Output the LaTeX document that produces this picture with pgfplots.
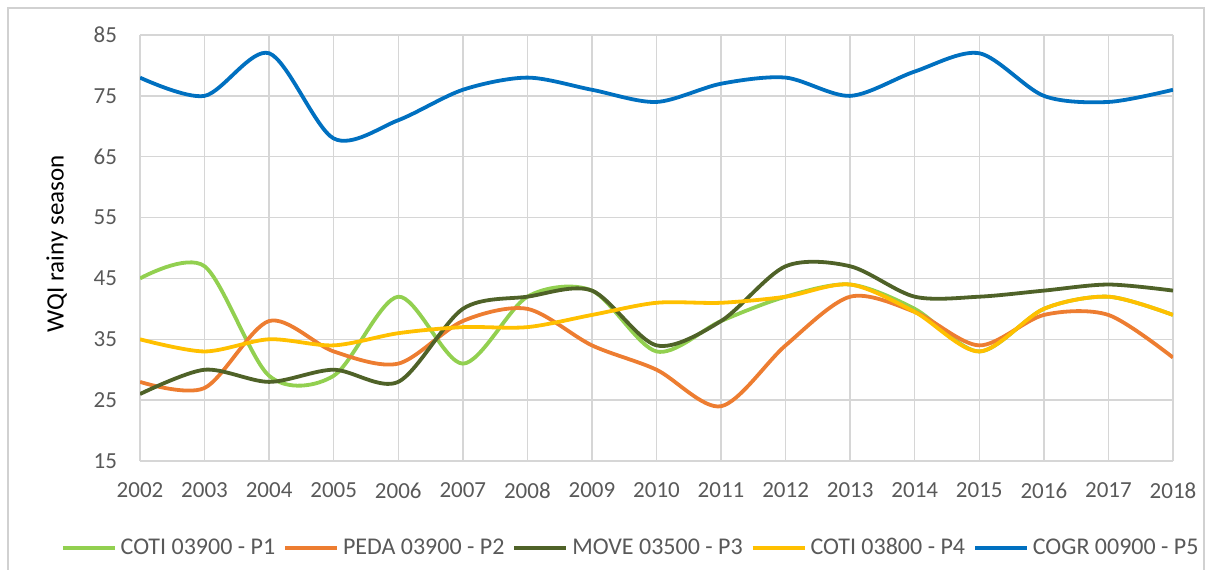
\documentclass[border=0pt]{standalone}
\usepackage{pgfplots}
\pgfplotsset{compat=1.18}
\usepackage{fontspec}
\setmainfont{Carlito}
\definecolor{cPa}{HTML}{92D050}
\definecolor{cPb}{HTML}{ED7D31}
\definecolor{cPc}{HTML}{4F6228}
\definecolor{cPd}{HTML}{FFC000}
\definecolor{cPe}{HTML}{0070C0}
\definecolor{txtgray}{HTML}{595959}
\begin{document}
\begin{tikzpicture}
\useasboundingbox (0pt,0pt) rectangle (602.5pt,284.5pt);
\draw[black!18, line width=0.6pt] (4pt,-5pt) rectangle (602pt,280.5pt);
\begin{axis}[
  at={(70pt,54pt)}, anchor=south west,
  scale only axis, width=516.5pt, height=213pt,
  xmin=2002, xmax=2018, ymin=15, ymax=85,
  xtick={2002,2003,...,2018}, ytick={15,25,...,85},
  grid=major, grid style={draw=black!16, line width=0.7pt},
  axis line style={draw=none},
  major tick length=0pt,
  /pgf/number format/assume math mode=true,
  xticklabel style={/pgf/number format/1000 sep={}, font=\fontsize{11.5}{13}\selectfont, text=txtgray, yshift=-7.5pt},
  yticklabel style={font=\fontsize{11.5}{13}\selectfont, text=txtgray, xshift=-8pt},
  ylabel={WQI rainy season},
  every axis y label/.style={at={(axis description cs:-0.0803,0.51)}, rotate=90, anchor=center, font=\fontsize{12.5}{14}\selectfont},
  legend style={at={(axis description cs:0.476,-0.204)}, anchor=center, draw=none, fill=none,
    legend columns=5, font=\fontsize{12}{14}\selectfont, text=txtgray,
    /tikz/every even column/.append style={column sep=2pt}},
  legend image code/.code={\draw[#1] (0pt,0pt) -- (26pt,0pt);},
  every axis plot/.append style={line width=1.9pt, smooth, tension=0.5, no markers},
]
\addplot[cPa] coordinates {(2002,45)(2003,47)(2004,29)(2005,29)(2006,42)(2007,31)(2008,42)(2009,43)(2010,33)(2011,38)(2012,42)(2013,44)(2014,40)(2015,33)(2016,40)(2017,42)(2018,39)};
\addlegendentry{COTI 03900 - P1}
\addplot[cPb] coordinates {(2002,28)(2003,27)(2004,38)(2005,33)(2006,31)(2007,38)(2008,40)(2009,34)(2010,30)(2011,24)(2012,34)(2013,42)(2014,39.5)(2015,34)(2016,39)(2017,39)(2018,32)};
\addlegendentry{PEDA 03900 - P2}
\addplot[cPc] coordinates {(2002,26)(2003,30)(2004,28)(2005,30)(2006,28)(2007,40)(2008,42)(2009,43)(2010,34)(2011,38)(2012,47)(2013,47)(2014,42)(2015,42)(2016,43)(2017,44)(2018,43)};
\addlegendentry{MOVE 03500 - P3}
\addplot[cPd] coordinates {(2002,35)(2003,33)(2004,35)(2005,34)(2006,36)(2007,37)(2008,37)(2009,39)(2010,41)(2011,41)(2012,42)(2013,44)(2014,39.5)(2015,33)(2016,40)(2017,42)(2018,39)};
\addlegendentry{COTI 03800 - P4}
\addplot[cPe] coordinates {(2002,78)(2003,75)(2004,82)(2005,68)(2006,71)(2007,76)(2008,78)(2009,76)(2010,74)(2011,77)(2012,78)(2013,75)(2014,79)(2015,82)(2016,75)(2017,74)(2018,76)};
\addlegendentry{COGR 00900 - P5}
\end{axis}
\end{tikzpicture}
\end{document}
